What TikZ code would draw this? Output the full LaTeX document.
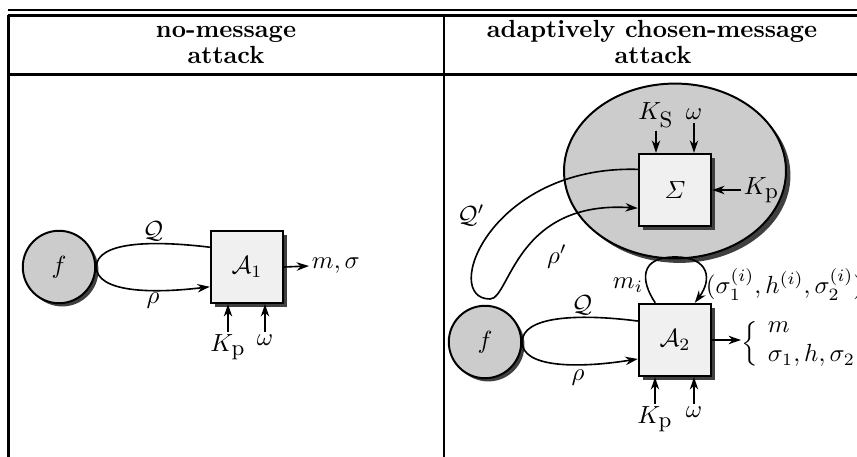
\documentclass[tikz,border=0pt]{standalone}
\usepackage{amsmath}
\usetikzlibrary{shapes.geometric,shadows,arrows.meta}
\newcommand{\subtxt}[1]{\mbox{\small #1}}
\tikzset{
  advbox/.style={draw,line width=0.8pt,fill=black!6,minimum size=29.2pt,inner sep=0pt,
    drop shadow={shadow xshift=1.6pt,shadow yshift=-1.6pt,fill=black!75,opacity=1}},
  oraclecirc/.style={circle,draw,line width=0.8pt,fill=black!20,minimum size=29.2pt,inner sep=0pt,
    drop shadow={shadow xshift=1.3pt,shadow yshift=-1.3pt,fill=black!75,opacity=1}},
  signarea/.style={ellipse,draw,line width=0.8pt,fill=black!20,minimum width=89.5pt,minimum height=70.5pt,
    drop shadow={shadow xshift=1.8pt,shadow yshift=-1.8pt,fill=black!75,opacity=1}},
  flow/.style={line width=0.65pt},
  rule/.style={line width=1.2pt},
  lbl/.style={inner sep=1pt},
  headtxt/.style={font=\bfseries,anchor=base},
}
\begin{document}
\begin{tikzpicture}[x=0.4032pt,y=-0.4032pt,>={Stealth[length=5pt,width=3.4pt]}]
  \useasboundingbox (0,0) rectangle (857,457);
  % table rules
  \draw[line width=1pt] (8,10) -- (870,10);
  \draw[line width=1pt] (8,15.5) -- (870,15.5);
  \draw[rule] (8.5,15.5) -- (8.5,470);
  \draw[rule] (444,15.5) -- (444,470);
  \draw[rule] (8.5,74.5) -- (870,74.5);
  \node[headtxt] (head1) at (226,37.7) {no-message};
  \node[headtxt] (head1b) at (226,63.3) {attack};
  \node[headtxt] (head2) at (652,37.7) {adaptively chosen-message};
  \node[headtxt] (head2b) at (653,63.3) {attack};

  % no-message attack
  \node[oraclecirc] (f1) at (59,267) {$f$};
  \node[advbox] (A1) at (247,267) {$\mathcal{A}_1$};
  \draw[flow,->] (A1.152) .. controls (150,240) and (97,242) .. (f1.east)
    .. controls (97,292) and (150,294) .. (A1.208);
  \node (Q1) at (153,231) {$\mathcal{Q}$};
  \node (rho1) at (153,301) {$\rho$};
  \node[lbl,anchor=west] (out1) at (309,266) {$m,\sigma$};
  \draw[flow,->] (A1.east) -- (out1.west);
  \node[lbl,anchor=north] (Kp1) at (228,332) {$K_{\subtxt{p}}$};
  \node[lbl,anchor=north] (om1) at (265,332) {$\omega$};
  \draw[flow,->] (Kp1.north) -- (Kp1.north |- A1.south);
  \draw[flow,->] (om1.north) -- (om1.north |- A1.south);

  % adaptively chosen-message attack
  \node[signarea] (S) at (675,171) {};
  \node[advbox] (Sig) at (675,190) {$\varSigma$};
  \node[lbl,anchor=base] (Ks) at (656,120) {$K_{\subtxt{S}}$};
  \node[lbl,anchor=base] (om2) at (694,120) {$\omega$};
  \draw[flow,->] (Ks.south) -- (Ks.south |- Sig.north);
  \draw[flow,->] (om2.south) -- (om2.south |- Sig.north);
  \node[lbl,anchor=west] (Kp2) at (741,190) {$K_{\subtxt{p}}$};
  \draw[flow,->] (Kp2.west) -- (Sig.east);
  \draw[flow,->] (Sig.151) .. controls (490,165) and (440,299) .. (490,299)
    .. controls (510,299) and (515,200) .. (Sig.206);
  \node (Qp) at (471,215) {$\mathcal{Q}'$};
  \node (rhop) at (557,257) {$\rho'$};

  \node[oraclecirc] (f2) at (485,342) {$f$};
  \node[advbox] (A2) at (675,340) {$\mathcal{A}_2$};
  \draw[flow,->] (A2.118) .. controls (640,280) and (640,257) .. (675,257)
    .. controls (710,257) and (712,280) .. (A2.62);
  \node (mi) at (628,285) {$m_i$};
  \node[lbl,anchor=base west] (sigi) at (703,294) {$(\sigma_1^{(i)},h^{(i)},\sigma_2^{(i)})$};
  \draw[flow,->] (A2.153) .. controls (575,313) and (522,317) .. (f2.east)
    .. controls (522,367) and (575,369) .. (A2.207);
  \node (Q2) at (582,305) {$\mathcal{Q}$};
  \node (rho2) at (578,378) {$\rho$};
  \node[inner sep=0pt,anchor=west] (out2) at (741,344)
    {$\left\{\kern4pt\vcenter{\hbox{$m$}\hbox{$\sigma_1,h,\sigma_2$}}\right.$};
  \draw[flow,->] (A2.east) -- (A2.east -| out2.west);
  \node[lbl,anchor=north] (Kp3) at (655,404) {$K_{\subtxt{p}}$};
  \node[lbl,anchor=north] (om3) at (694,404) {$\omega$};
  \draw[flow,->] (Kp3.north) -- (Kp3.north |- A2.south);
  \draw[flow,->] (om3.north) -- (om3.north |- A2.south);
\end{tikzpicture}
\end{document}
